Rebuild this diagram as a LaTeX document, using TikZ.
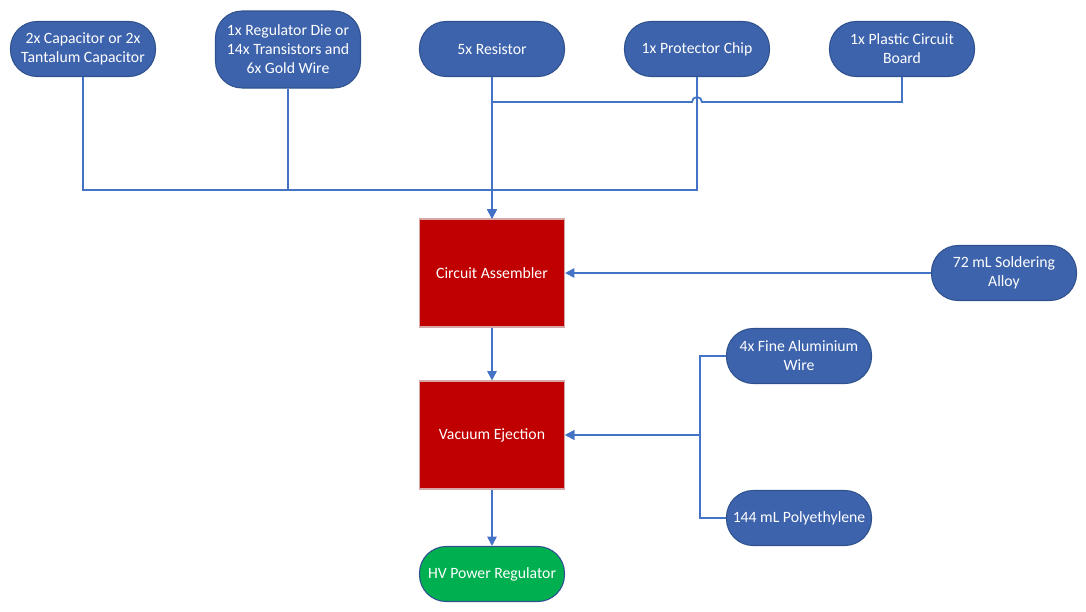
\documentclass[tikz,border=0pt]{standalone}
\usepackage{fontspec}
\setmainfont{Carlito}
\usetikzlibrary{arrows.meta}
\definecolor{nodeblue}{HTML}{3D63AC}
\definecolor{nodeborder}{HTML}{2F528F}
\definecolor{linecol}{HTML}{4472C4}
\definecolor{procred}{HTML}{C00000}
\definecolor{procborder}{HTML}{D7A6A6}
\definecolor{outgreen}{HTML}{00B050}
\tikzset{
  base/.style={text=white, align=center, inner sep=0pt, font=\fontsize{11.8}{14.3}\selectfont},
  supply/.style={base, draw=nodeborder, fill=nodeblue, line width=0.8pt, rounded corners=20pt, minimum width=108.75pt, minimum height=41.25pt},
  tall/.style={minimum height=57.75pt},
  proc/.style={base, draw=procborder, fill=procred, line width=0.8pt, minimum width=108.75pt, minimum height=81pt},
  product/.style={base, draw=nodeborder, fill=outgreen, line width=0.8pt, rounded corners=20pt, minimum width=108.75pt, minimum height=41.25pt},
  conn/.style={draw=linecol, line width=1.35pt, -{Triangle[length=7pt,width=7pt]}},
}
\begin{document}
\begin{tikzpicture}[x=0.75pt, y=-0.75pt]
\useasboundingbox (0,0) rectangle (1086,611);
% supplies
\node[supply] (cap) at (83,49) {2x Capacitor or 2x\\Tantalum Capacitor};
\node[supply, tall] (reg) at (288,49.5) {1x Regulator Die or\\14x Transistors and\\6x Gold Wire};
\node[supply] (res) at (492,49) {5x Resistor};
\node[supply] (prot) at (697,49) {1x Protector Chip};
\node[supply] (pcb) at (902,49) {1x Plastic Circuit\\Board};
\node[supply] (sold) at (1004,273) {72 mL Soldering\\Alloy};
\node[supply] (alu) at (799,356) {4x Fine Aluminium\\Wire};
\node[supply] (poly) at (799,518) {144 mL Polyethylene};
% processes
\node[proc] (ca) at (492,273) {Circuit Assembler};
\node[proc] (ve) at (492,435) {Vacuum Ejection};
\node[product] (hv) at (492,574) {HV Power Regulator};
% junctions
\coordinate (jlow) at (492,190);
\coordinate (jhigh) at (492,102);
\coordinate (hopr) at (702,102);
\coordinate (jve) at (700,435);
% connectors to circuit assembler
\draw[conn] (cap.south) |- (jlow) -- (ca.north);
\draw[conn] (reg.south) |- (jlow) -- (ca.north);
\draw[conn] (prot.south) |- (jlow) -- (ca.north);
\draw[conn] (res.south) -- (ca.north);
\draw[conn] (pcb.south) |- (hopr) arc[start angle=0, end angle=180, radius=3.75pt] -- (jhigh) -- (ca.north);
\draw[conn] (sold.west) -- (ca.east);
% connectors to vacuum ejection
\draw[conn] (alu.west) -| (jve) -- (ve.east);
\draw[conn] (poly.west) -| (jve) -- (ve.east);
\draw[conn] (ca.south) -- (ve.north);
\draw[conn] (ve.south) -- (hv.north);
\end{tikzpicture}
\end{document}
